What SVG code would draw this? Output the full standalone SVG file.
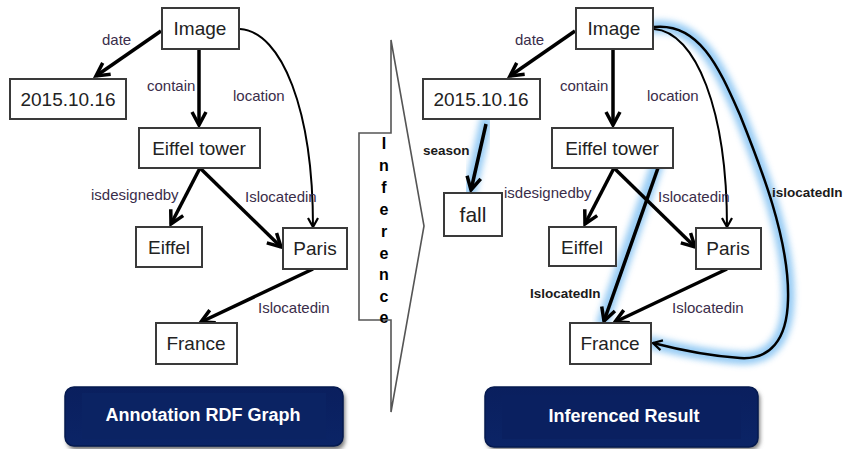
<svg xmlns="http://www.w3.org/2000/svg" width="843" height="449" viewBox="0 0 843 449">
  <defs>
    <style>
      .node rect { fill: #ffffff; stroke: #3a3a3a; stroke-width: 2; }
      .node text { font-family: "Liberation Sans", Arial, sans-serif; font-size: 19px; fill: #222; text-anchor: middle; }
      .edge { fill: none; stroke: #000; stroke-width: 3.5; marker-end: url(#arrow); }
      .thin { fill: none; stroke: #000; stroke-width: 2; marker-end: url(#arrowThin); }
      .mid { fill: none; stroke: #000; stroke-width: 2.5; marker-end: url(#arrowThin); }
      .lbl { font-family: "Liberation Sans", Arial, sans-serif; font-size: 15px; fill: #3a2d4a; }
      .lblb { font-family: "Liberation Sans", Arial, sans-serif; font-size: 13.5px; font-weight: bold; fill: #1a1a1a; }
      .glow { fill: none; stroke: #7fc0f2; stroke-width: 13; stroke-linecap: round; opacity: 0.8; filter: url(#soft); }
      .chev { fill: none; stroke: #555; stroke-width: 1.6; stroke-linejoin: miter; }
      .vtxt { font-family: "Liberation Sans", Arial, sans-serif; font-size: 16px; font-weight: bold; fill: #000; text-anchor: middle; }
      .btn text { font-family: "Liberation Sans", Arial, sans-serif; font-size: 18px; font-weight: bold; fill: #fff; text-anchor: middle; }
    </style>
    <marker id="arrow" viewBox="-16 -9 18 18" refX="0" refY="0" markerWidth="18" markerHeight="18" markerUnits="userSpaceOnUse" orient="auto" overflow="visible">
      <path d="M-13,-7 L0,0 L-13,7" fill="none" stroke="#000" stroke-width="3.5" stroke-linejoin="miter"/>
    </marker>
    <marker id="arrowThin" viewBox="-12 -7 14 14" refX="0" refY="0" markerWidth="14" markerHeight="14" markerUnits="userSpaceOnUse" orient="auto" overflow="visible">
      <path d="M-9,-5 L0,0 L-9,5" fill="none" stroke="#000" stroke-width="2.2"/>
    </marker>
    <filter id="soft" x="-20%" y="-20%" width="140%" height="140%">
      <feGaussianBlur stdDeviation="3"/>
    </filter>
    <filter id="shadow" x="-10%" y="-20%" width="120%" height="160%">
      <feGaussianBlur stdDeviation="2"/>
    </filter>
    <linearGradient id="navy" x1="0" y1="0" x2="0" y2="1">
      <stop offset="0" stop-color="#0a1f5e"/>
      <stop offset="1" stop-color="#0b2466"/>
    </linearGradient>
  </defs>

  <!-- left graph: connectors -->
  <g id="edges-left">
    <path class="edge" d="M161,31 L96,76"/>
    <path class="edge" d="M199,49 L199,125"/>
    <path class="thin" d="M240,29 C282,32 313,110 313,227"/>
    <path class="edge" d="M200,168 L171,224"/>
    <path class="edge" d="M200,168 L281,247"/>
    <path class="edge" d="M313,269 L201,322"/>
    <text class="lbl" x="102" y="45">date</text>
    <text class="lbl" x="147" y="91">contain</text>
    <text class="lbl" x="233" y="101">location</text>
    <text class="lbl" x="91" y="200">isdesignedby</text>
    <text class="lbl" x="245" y="202">Islocatedin</text>
    <text class="lbl" x="258" y="313">Islocatedin</text>
  </g>

  <!-- left graph: nodes -->
  <g id="l-image" class="node"><rect x="162" y="8" width="77" height="41"/><text x="200" y="35">Image</text></g>
  <g id="l-date" class="node"><rect x="10" y="79" width="116" height="40"/><text x="68" y="106">2015.10.16</text></g>
  <g id="l-tower" class="node"><rect x="139" y="128" width="121" height="40"/><text x="199" y="155">Eiffel tower</text></g>
  <g id="l-eiffel" class="node"><rect x="136" y="227" width="66" height="40"/><text x="169" y="254">Eiffel</text></g>
  <g id="l-paris" class="node"><rect x="283" y="228" width="64" height="41"/><text x="315" y="255">Paris</text></g>
  <g id="l-france" class="node"><rect x="156" y="323" width="81" height="41"/><text x="196" y="350">France</text></g>

  <!-- inference chevron -->
  <g id="inference">
    <path class="chev" d="M391,40 L424,226 L391,412 L391,320 L359,320 L359,133 L391,133 Z"/>
    <text class="vtxt" x="384" y="149">I</text>
    <text class="vtxt" x="384" y="171">n</text>
    <text class="vtxt" x="384" y="193">f</text>
    <text class="vtxt" x="384" y="215">e</text>
    <text class="vtxt" x="384" y="237">r</text>
    <text class="vtxt" x="384" y="259">e</text>
    <text class="vtxt" x="384" y="280">n</text>
    <text class="vtxt" x="384" y="302">c</text>
    <text class="vtxt" x="384" y="323">e</text>
  </g>

  <!-- right graph: highlight of inferred relations -->
  <g id="highlight">
    <path class="glow" d="M486,122 L470,192"/>
    <path class="glow" d="M658,162 L603,322"/>
    <path class="glow" d="M654,27 C700,22 720,70 740,115 C760,165 790,240 788,300 C787,340 770,360 740,358 C710,356 680,350 652,343"/>
  </g>

  <!-- right graph: connectors -->
  <g id="edges-right">
    <path class="edge" d="M575,31 L510,76"/>
    <path class="edge" d="M613,49 L613,125"/>
    <path class="thin" d="M654,29 C696,32 727,110 727,227"/>
    <path class="edge" d="M614,168 L585,224"/>
    <path class="edge" d="M614,168 L695,247"/>
    <path class="edge" d="M727,269 L615,322"/>
    <path class="edge" d="M486,124 L471,190"/>
    <path class="edge" d="M658,168 L604,321"/>
    <path class="mid" d="M654,27 C700,22 720,70 740,115 C760,165 790,240 788,300 C787,340 770,360 740,358 C710,356 680,350 653,343"/>
    <text class="lbl" x="515" y="45">date</text>
    <text class="lbl" x="560" y="91">contain</text>
    <text class="lbl" x="647" y="101">location</text>
    <text class="lbl" x="504" y="198">isdesignedby</text>
    <text class="lbl" x="658" y="202">Islocatedin</text>
    <text class="lbl" x="672" y="313">Islocatedin</text>
    <text class="lblb" x="423" y="155">season</text>
    <text class="lblb" x="530" y="298">IslocatedIn</text>
    <text class="lblb" x="772" y="197">islocatedIn</text>
  </g>

  <!-- right graph: nodes -->
  <g id="r-image" class="node"><rect x="576" y="8" width="77" height="41"/><text x="614" y="35">Image</text></g>
  <g id="r-date" class="node"><rect x="423" y="79" width="117" height="40"/><text x="481" y="106">2015.10.16</text></g>
  <g id="r-fall" class="node"><rect x="444" y="193" width="58" height="43"/><text x="473" y="222" style="font-size:21px">fall</text></g>
  <g id="r-tower" class="node"><rect x="552" y="128" width="121" height="40"/><text x="612" y="155">Eiffel tower</text></g>
  <g id="r-eiffel" class="node"><rect x="549" y="227" width="67" height="39"/><text x="582" y="254">Eiffel</text></g>
  <g id="r-paris" class="node"><rect x="696" y="228" width="65" height="41"/><text x="728" y="255">Paris</text></g>
  <g id="r-france" class="node"><rect x="570" y="323" width="81" height="41"/><text x="610" y="350">France</text></g>

  <!-- caption buttons -->
  <g id="btn-annotation" class="btn">
    <rect x="67" y="390" width="278" height="60" rx="9" fill="#777" filter="url(#shadow)"/>
    <rect x="65" y="387" width="278" height="59" rx="9" fill="url(#navy)" stroke="#051a4f" stroke-width="1.5"/>
    <rect x="82" y="393" width="244" height="46" fill="#0b2363"/>
    <text x="203" y="421">Annotation RDF Graph</text>
  </g>
  <g id="btn-result" class="btn">
    <rect x="487" y="390" width="273" height="60" rx="9" fill="#777" filter="url(#shadow)"/>
    <rect x="485" y="387" width="273" height="60" rx="9" fill="url(#navy)" stroke="#051a4f" stroke-width="1.5"/>
    <rect x="502" y="395" width="239" height="44" fill="#0a2060"/>
    <text x="624" y="422">Inferenced Result</text>
  </g>
</svg>
